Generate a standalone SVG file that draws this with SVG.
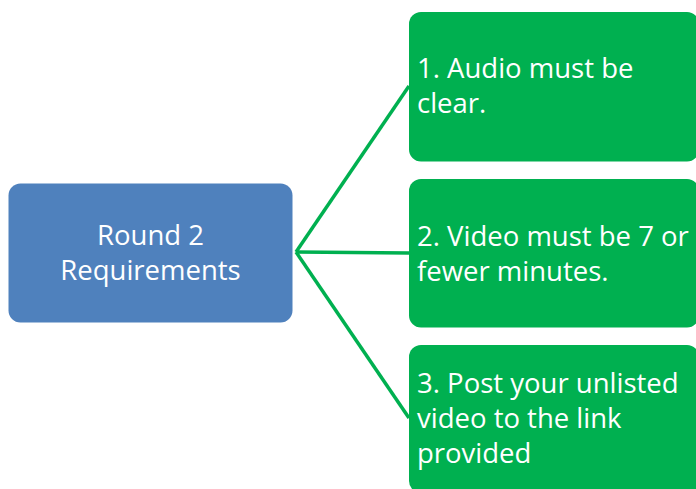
<svg xmlns="http://www.w3.org/2000/svg" width="696" height="489" viewBox="0 0 696 489">
<style>
.t{font-family:"Open Sans","Noto Sans","Liberation Sans",sans-serif;font-size:27.5px;fill:#fff}
.g{fill:#00B050}
.c{stroke:#00B050;stroke-width:3.5;fill:none}
</style>
<rect width="696" height="489" fill="#fff"/>
<g id="connectors">
<line class="c" x1="296" y1="252" x2="409" y2="86"/>
<line class="c" x1="296" y1="252" x2="409" y2="253"/>
<line class="c" x1="296" y1="252" x2="409" y2="418"/>
</g>
<g id="root">
<rect x="8.5" y="183.5" width="284" height="139" rx="12" fill="#4F81BD"/>
<text class="t" x="150.5" y="245" text-anchor="middle">Round 2</text>
<text class="t" x="150.5" y="280" text-anchor="middle">Requirements</text>
</g>
<g id="n1">
<rect class="g" x="409" y="12" width="290" height="149.5" rx="12"/>
<text class="t" x="417" y="78">1. Audio must be</text>
<text class="t" x="417" y="113">clear.</text>
</g>
<g id="n2">
<rect class="g" x="409" y="179" width="290" height="148.5" rx="12"/>
<text class="t" x="417" y="246">2. Video must be 7 or</text>
<text class="t" x="417" y="281">fewer minutes.</text>
</g>
<g id="n3">
<rect class="g" x="409" y="345" width="290" height="148" rx="12"/>
<text class="t" x="417" y="393">3. Post your unlisted</text>
<text class="t" x="417" y="428">video to the link</text>
<text class="t" x="417" y="463">provided</text>
</g>
</svg>
